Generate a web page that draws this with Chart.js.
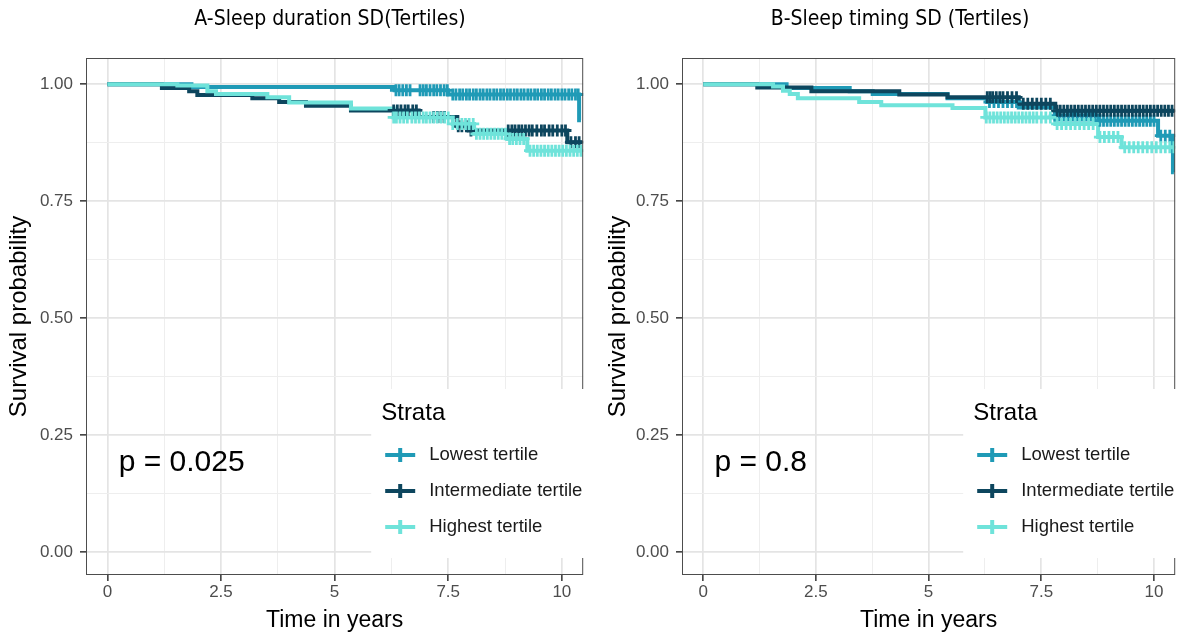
<!DOCTYPE html>
<html>
<head>
<meta charset="utf-8">
<script src="https://cdn.jsdelivr.net/npm/chart.js@4/dist/chart.umd.min.js"></script>
<style>
  html, body { margin: 0; padding: 0; background: #fff; }
  .panel { position: absolute; top: 0; width: 592px; height: 637px; }
  #panelA { left: 0; }
  #panelB { left: 592px; }
</style>
</head>
<body>
<div class="panel" id="panelA"><canvas id="chartA" width="592" height="637"></canvas></div>
<div class="panel" id="panelB"><canvas id="chartB" width="592" height="637"></canvas></div>
<script>
const strata = ['Lowest tertile', 'Intermediate tertile', 'Highest tertile']
const strataColors = ['#1f9ab6', '#0d465e', '#6fe3da']

const xMajor = [0, 2.5, 5, 7.5, 10]
const xMinor = [1.25, 3.75, 6.25, 8.75]
const xLabels = ['0', '2.5', '5', '7.5', '10']
const yMajor = [0, 0.25, 0.5, 0.75, 1]
const yMinor = [0.125, 0.375, 0.625, 0.875]
const yLabels = ['0.00', '0.25', '0.50', '0.75', '1.00']

// A - sleep duration SD, step points (time, survival) and censored times
const aLowT = [0, 1.85, 6.32, 7.5, 10.38, 10.42]
const aLowS = [1, 0.994, 0.987, 0.978, 0.923, 0.923]
const aMidT = [0, 1.2, 1.8, 1.98, 3.19, 3.78, 4.37, 5.36, 6.85, 7.7, 7.95, 10.12, 10.45]
const aMidS = [1, 0.992, 0.985, 0.977, 0.970, 0.962, 0.954, 0.944, 0.930, 0.910, 0.901, 0.876, 0.876]
const aHighT = [0, 1.54, 2.2, 2.39, 3.52, 4.0, 5.36, 6.3, 7.6, 8.07, 8.8, 9.24, 10.45]
const aHighS = [1, 0.997, 0.985, 0.979, 0.972, 0.961, 0.948, 0.929, 0.915, 0.894, 0.883, 0.858, 0.858]
const aLowCens = [6.35, 6.42, 6.5, 6.58, 6.66, 6.88, 6.95, 7.02, 7.1, 7.18, 7.25, 7.33, 7.41, 7.48,
  7.6, 7.67, 7.75, 7.82, 7.9, 7.97, 8.05, 8.12, 8.2, 8.27, 8.35, 8.42, 8.5, 8.57, 8.65, 8.72, 8.8,
  8.87, 8.95, 9.02, 9.1, 9.17, 9.25, 9.32, 9.4, 9.47, 9.55, 9.62, 9.7, 9.77, 9.85, 9.92, 10.0,
  10.07, 10.15, 10.22, 10.3, 10.36]
const aMidCens = [6.3, 6.38, 6.46, 6.55, 6.62, 6.72, 6.8, 7.18, 7.26, 7.34, 7.42, 7.72, 7.8, 7.9, 8.0,
  8.82, 8.9, 8.97, 9.05, 9.12, 9.2, 9.28, 9.35, 9.45, 9.55, 9.62, 9.72, 9.8, 9.9, 10.0, 10.08,
  10.2, 10.3, 10.38]
const aHighCens = [6.3, 6.36, 6.44, 6.52, 6.6, 6.7, 6.78, 6.86, 6.95, 7.02, 7.1, 7.18, 7.26, 7.34,
  7.42, 7.5, 7.6, 7.7, 7.8, 7.88, 7.96, 8.05, 8.12, 8.2, 8.28, 8.36, 8.44, 8.52, 8.6, 8.68, 8.76,
  8.85, 8.92, 9.0, 9.08, 9.16, 9.3, 9.38, 9.46, 9.54, 9.62, 9.7, 9.78, 9.86, 9.94, 10.02, 10.1,
  10.18, 10.26, 10.34, 10.42]

// B - sleep timing SD
const bLowT = [0, 1.85, 3.25, 3.76, 5.42, 6.3, 7.0, 7.8, 8.78, 10.09, 10.42, 10.44]
const bLowS = [1, 0.992, 0.985, 0.979, 0.970, 0.962, 0.950, 0.933, 0.922, 0.890, 0.812, 0.812]
const bMidT = [0, 1.2, 2.4, 4.35, 5.42, 7.0, 7.81, 10.46]
const bMidS = [1, 0.993, 0.985, 0.978, 0.972, 0.958, 0.943, 0.943]
const bHighT = [0, 1.55, 1.77, 1.92, 2.1, 3.46, 3.95, 5.53, 6.26, 7.81, 8.76, 9.28, 10.46]
const bHighS = [1, 0.995, 0.986, 0.979, 0.970, 0.962, 0.955, 0.949, 0.929, 0.915, 0.887, 0.865, 0.865]
const bLowCens = [6.35, 6.45, 6.55, 6.65, 6.75, 6.85, 6.95, 7.8, 7.9, 8.0, 8.1, 8.2, 8.3, 8.4, 8.5,
  8.6, 8.7, 8.8, 8.88, 8.96, 9.04, 9.12, 9.2, 9.28, 9.36, 9.44, 9.52, 9.6, 9.68, 9.76, 9.84, 9.92,
  10.0, 10.15, 10.25, 10.35]
const bMidCens = [6.3, 6.36, 6.42, 6.5, 6.58, 6.65, 6.75, 6.85, 6.95, 7.1, 7.2, 7.3, 7.4, 7.5, 7.6,
  7.7, 7.85, 7.92, 8.0, 8.08, 8.16, 8.24, 8.32, 8.4, 8.48, 8.56, 8.64, 8.72, 8.8, 8.88, 8.96, 9.04,
  9.12, 9.2, 9.28, 9.36, 9.44, 9.52, 9.6, 9.68, 9.76, 9.84, 9.92, 10.0, 10.08, 10.16, 10.24, 10.32, 10.4]
const bHighCens = [6.28, 6.36, 6.44, 6.52, 6.6, 6.68, 6.76, 6.84, 6.92, 7.0, 7.08, 7.16, 7.24, 7.32,
  7.4, 7.5, 7.6, 7.7, 7.85, 7.95, 8.05, 8.15, 8.25, 8.35, 8.45, 8.55, 8.65, 8.8, 8.9, 9.0, 9.1, 9.2,
  9.35, 9.45, 9.55, 9.65, 9.75, 9.85, 9.95, 10.05, 10.15, 10.25, 10.35, 10.44]

const FONT = '"Liberation Sans", Arial, sans-serif'

// survival value of a step curve at time t
const survAt = (ts, ss, t) => {
  let s = ss[0]
  for (let i = 0; i < ts.length; i++) if (ts[i] <= t) s = ss[i]
  return s
}

const panelDecor = {
  id: 'panelDecor',
  afterDatasetsDraw(chart, args, o) {
    const { ctx, chartArea: a, scales: { x, y } } = chart
    ctx.save()
    // full panel border
    ctx.strokeStyle = '#4d4d4d'
    ctx.lineWidth = 1
    ctx.strokeRect(a.left + 0.5, a.top + 0.5, a.right - a.left - 1, a.bottom - a.top - 1)

    // legend box inside the panel
    const bx = a.right - 212
    ctx.fillStyle = '#fff'
    ctx.fillRect(bx, 389, 216, 169)
    ctx.fillStyle = '#000'
    ctx.textBaseline = 'middle'
    ctx.textAlign = 'left'
    ctx.font = '24px ' + FONT
    ctx.fillText('Strata', bx + 10, 413)
    ctx.font = '18.5px ' + FONT
    strata.forEach((name, i) => {
      const cy = 455 + i * 36
      ctx.strokeStyle = strataColors[i]
      ctx.lineWidth = 4
      ctx.beginPath()
      ctx.moveTo(bx + 14, cy); ctx.lineTo(bx + 44, cy)
      ctx.moveTo(bx + 29, cy - 7); ctx.lineTo(bx + 29, cy + 7)
      ctx.stroke()
      ctx.fillStyle = '#1a1a1a'
      ctx.fillText(name, bx + 58, cy)
    })

    // p value
    ctx.fillStyle = '#000'
    ctx.font = '30px ' + FONT
    ctx.fillText(o.pText, x.getPixelForValue(0.25), y.getPixelForValue(0.19))

    // panel title
    ctx.textAlign = 'center'
    ctx.font = '21px "Liberation Sans Narrow", "DejaVu Sans Condensed", sans-serif'
    ctx.fillText(o.title, o.titleX, 20)
    ctx.restore()
  }
}

function makePanel(id, opt) {
  const xTicks = xMajor.concat(xMinor)
  const yTicks = yMajor.concat(yMinor)
  const lines = opt.curves.map((c, i) => ({
    type: 'line',
    data: c.t.map((t, k) => ({ x: t, y: c.s[k] })),
    stepped: true,
    borderColor: strataColors[i],
    borderWidth: 4,
    pointRadius: 0,
    fill: false
  }))
  const cens = opt.curves.map((c, i) => ({
    type: 'scatter',
    data: c.cens.map(t => ({ x: t, y: survAt(c.t, c.s, t) })),
    pointStyle: 'cross',
    pointRadius: 6,
    borderColor: strataColors[i],
    borderWidth: 2.8
  }))
  // first dataset is drawn on top
  const datasets = cens.reverse().concat(lines.reverse())

  new Chart(document.getElementById(id), {
    type: 'line',
    data: { datasets },
    options: {
      responsive: false,
      animation: false,
      devicePixelRatio: 1,
      layout: { padding: { top: 58, right: 7, left: 0, bottom: 0 } },
      plugins: {
        legend: { display: false },
        tooltip: { enabled: false },
        panelDecor: { title: opt.title, titleX: opt.titleX, pText: opt.pText }
      },
      scales: {
        x: {
          type: 'linear',
          min: -0.47,
          max: 10.47,
          afterBuildTicks: s => { s.ticks = xTicks.map(v => ({ value: v })) },
          afterFit: s => { s.height = 62 },
          ticks: {
            autoSkip: false,
            maxRotation: 0,
            padding: 1,
            color: '#4d4d4d',
            font: { size: 17, family: FONT },
            callback: v => { const k = xMajor.indexOf(v); return k < 0 ? '' : xLabels[k] }
          },
          grid: {
            color: c => xMajor.includes(c.tick.value) ? '#e4e4e4' : '#eeeeee',
            lineWidth: c => xMajor.includes(c.tick.value) ? 1.7 : 1,
            tickColor: c => xMajor.includes(c.tick.value) ? '#333' : 'rgba(0,0,0,0)',
            tickLength: 6,
            tickWidth: 1.5
          },
          border: { display: false },
          title: {
            display: true,
            text: 'Time in years',
            color: '#000',
            font: { size: 23, family: FONT },
            padding: { top: 0, bottom: 3 }
          }
        },
        y: {
          type: 'linear',
          min: -0.049,
          max: 1.056,
          afterBuildTicks: s => { s.ticks = yTicks.map(v => ({ value: v })) },
          afterFit: s => { s.width = opt.yWidth },
          ticks: {
            autoSkip: false,
            padding: 7,
            color: '#4d4d4d',
            font: { size: 17, family: FONT },
            callback: v => { const k = yMajor.indexOf(v); return k < 0 ? '' : yLabels[k] }
          },
          grid: {
            color: c => yMajor.includes(c.tick.value) ? '#e4e4e4' : '#eeeeee',
            lineWidth: c => yMajor.includes(c.tick.value) ? 1.7 : 1,
            tickColor: c => yMajor.includes(c.tick.value) ? '#333' : 'rgba(0,0,0,0)',
            tickLength: 6,
            tickWidth: 1.5
          },
          border: { display: false },
          title: {
            display: true,
            text: 'Survival probability',
            color: '#000',
            font: { size: 24, family: FONT },
            padding: { top: opt.yTitlePad, bottom: 0 }
          }
        }
      }
    },
    plugins: [panelDecor]
  })
}

makePanel('chartA', {
  title: 'A-Sleep duration SD(Tertiles)',
  titleX: 330,
  pText: 'p = 0.025',
  yWidth: 86,
  yTitlePad: 5,
  curves: [
    { t: aLowT, s: aLowS, cens: aLowCens },
    { t: aMidT, s: aMidS, cens: aMidCens },
    { t: aHighT, s: aHighS, cens: aHighCens }
  ]
})

makePanel('chartB', {
  title: 'B-Sleep timing SD (Tertiles)',
  titleX: 308,
  pText: 'p = 0.8',
  yWidth: 90,
  yTitlePad: 12,
  curves: [
    { t: bLowT, s: bLowS, cens: bLowCens },
    { t: bMidT, s: bMidS, cens: bMidCens },
    { t: bHighT, s: bHighS, cens: bHighCens }
  ]
})
</script>
</body>
</html>
